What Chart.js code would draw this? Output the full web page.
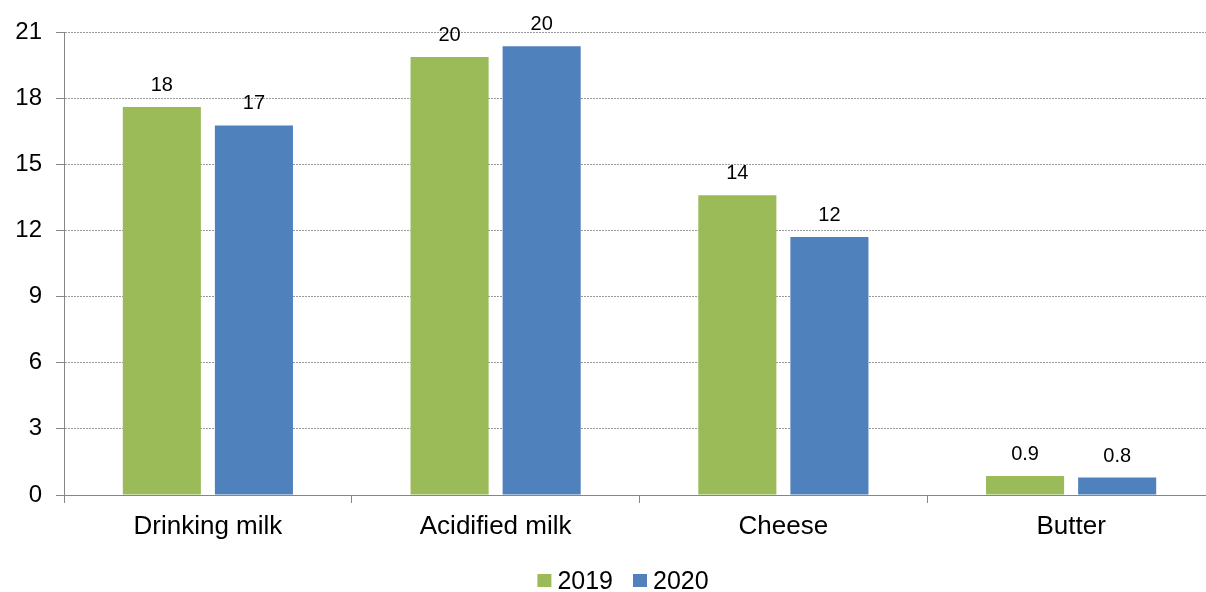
<!DOCTYPE html>
<html>
<head>
<meta charset="utf-8">
<script src="https://cdn.jsdelivr.net/npm/chart.js@4.4.1/dist/chart.umd.min.js"></script>
<style>
    html, body { margin: 0; padding: 0; background: #fff; overflow: hidden; }
    #wrap { position: relative; width: 1215px; height: 592px; }
</style>
</head>
<body>
<div id="wrap"><canvas id="dairyChart"></canvas></div>
<script>
// Chart data
const categories = ['Drinking milk', 'Acidified milk', 'Cheese', 'Butter'];
const seriesNames = ['2019', '2020'];
const values2019 = [17.6, 19.87, 13.59, 0.86];
const values2020 = [16.76, 20.35, 11.7, 0.79];
const yTicks = [0, 3, 6, 9, 12, 15, 18, 21];

const GREEN = '#9BBB59';
const BLUE = '#4F81BD';
const AXIS_GREY = '#868686';

// value labels above the bars
const barLabels = {
    id: 'barLabels',
    afterDatasetsDraw(chart) {
        const ctx = chart.ctx;
        ctx.save();
        ctx.font = '20px "Liberation Sans", Arial, sans-serif';
        ctx.fillStyle = '#000';
        ctx.textAlign = 'center';
        ctx.textBaseline = 'alphabetic';
        chart.data.datasets.forEach((ds, i) => {
            chart.getDatasetMeta(i).data.forEach((bar, j) => {
                const v = ds.data[j];
                const txt = v < 1 ? v.toFixed(1) : String(Math.round(v));
                ctx.fillText(txt, bar.x, bar.y - 16);
            });
        });
        ctx.restore();
    }
};

// simple legend under the axis
const bottomLegend = {
    id: 'bottomLegend',
    afterDraw(chart) {
        const ctx = chart.ctx;
        ctx.save();
        ctx.font = '25px "Liberation Sans", Arial, sans-serif';
        ctx.textBaseline = 'alphabetic';
        ctx.textAlign = 'left';
        const items = chart.data.datasets.map(ds => ({
            text: ds.label,
            color: ds.backgroundColor,
            w: ctx.measureText(ds.label).width
        }));
        let total = 0;
        items.forEach((it, i) => { total += 14 + 6 + it.w + (i ? 20 : 0); });
        let x = 623 - total / 2;
        items.forEach(it => {
            ctx.fillStyle = it.color;
            ctx.fillRect(x, 574, 14, 13);
            ctx.fillStyle = '#000';
            ctx.fillText(it.text, x + 20, 589);
            x += 20 + it.w + 20;
        });
        ctx.restore();
    }
};

new Chart(document.getElementById('dairyChart'), {
    type: 'bar',
    data: {
        labels: categories,
        datasets: [
            { label: seriesNames[0], data: values2019, backgroundColor: GREEN },
            { label: seriesNames[1], data: values2020, backgroundColor: BLUE }
        ]
    },
    options: {
        responsive: true,
        maintainAspectRatio: false,
        animation: false,
        categoryPercentage: 0.64,
        barPercentage: 0.848,
        layout: { padding: { top: 32, left: 0, right: 0, bottom: 24 } },
        plugins: {
            legend: { display: false },
            tooltip: { enabled: false }
        },
        scales: {
            x: {
                offset: true,
                grid: {
                    offset: true,
                    drawOnChartArea: false,
                    drawTicks: true,
                    tickLength: 8,
                    tickColor: AXIS_GREY,
                    tickWidth: 1
                },
                border: { display: true, color: AXIS_GREY, width: 1 },
                ticks: {
                    color: '#000',
                    padding: 8,
                    font: { family: '"Liberation Sans", Arial, sans-serif', size: 26 }
                },
                afterFit(scale) { scale.height = 73; }
            },
            y: {
                min: 0,
                max: 21,
                afterBuildTicks(scale) {
                    scale.ticks = yTicks.map(v => ({ value: v }));
                },
                grid: {
                    color: '#9a9a9a',
                    lineWidth: 1,
                    tickLength: 8,
                    tickColor: AXIS_GREY,
                    tickBorderDash: [],
                    drawTicks: true
                },
                border: { display: true, color: AXIS_GREY, width: 1, dash: [2, 1] },
                ticks: {
                    color: '#000',
                    padding: 14,
                    font: { family: '"Liberation Sans", Arial, sans-serif', size: 24 }
                },
                afterFit(scale) { scale.width = 64; }
            }
        }
    },
    plugins: [barLabels, bottomLegend]
});
</script>
</body>
</html>
